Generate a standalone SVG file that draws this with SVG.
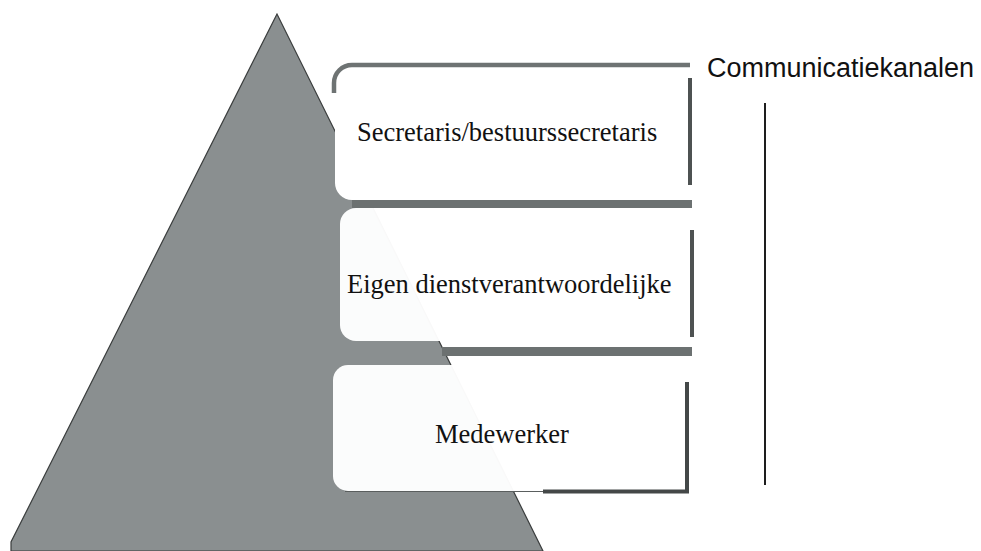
<svg xmlns="http://www.w3.org/2000/svg" width="981" height="551" viewBox="0 0 981 551">
<style>
  .box { fill: #ffffff; fill-opacity: 0.97; }
  .bar { fill: #6c7171; }
  .side { stroke: #4e5252; stroke-width: 4; fill: none; }
  .lbl { font-family: "Liberation Serif", "Times New Roman", serif; font-size: 26.5px; fill: #111111; }
  .title { font-family: "Liberation Sans", Arial, sans-serif; font-size: 27px; fill: #111111; }
</style>
<rect width="981" height="551" fill="#ffffff"/>
<g id="pyramid">
  <polygon points="277,14 11,542 11,551 543,551" fill="#8a8f90" stroke="#3a3d3d" stroke-width="1.2"/>
</g>
<g id="node-secretaris">
  <path class="box" style="fill-opacity:1" d="M352,63 H690 V200 H352 A17,17 0 0 1 335,183 V82 A19,19 0 0 1 354,63 Z"/>
  <path d="M334,93 V83 A18,18 0 0 1 352,65 H690" fill="none" stroke="#6e7373" stroke-width="4.5"/>
  <line class="side" x1="690" y1="78" x2="690" y2="185"/>
  <rect class="bar" x="352" y="200" width="340" height="8"/>
  <text class="lbl" x="357" y="141">Secretaris/bestuurssecretaris</text>
</g>
<g id="node-dienstverantwoordelijke">
  <path class="box" d="M356,208 H692 V341 H356 A16,16 0 0 1 340,325 V224 A16,16 0 0 1 356,208 Z"/>
  <line class="side" x1="692" y1="230" x2="692" y2="337"/>
  <rect class="bar" x="442" y="347" width="250" height="9"/>
  <text class="lbl" x="347" y="293">Eigen dienstverantwoordelijke</text>
</g>
<g id="node-medewerker">
  <path class="box" d="M348,365 H687 V491 H348 A15,15 0 0 1 333,476 V380 A15,15 0 0 1 348,365 Z"/>
  <line x1="345" y1="491.5" x2="545" y2="491.5" stroke="#5a5e5e" stroke-width="1"/>
  <path d="M543,491.5 H687 V382" fill="none" stroke="#444848" stroke-width="4"/>
  <text class="lbl" x="435" y="443">Medewerker</text>
</g>
<g id="label-communicatiekanalen">
  <text class="title" x="707" y="77">Communicatiekanalen</text>
</g>
<g id="connectors">
  <line x1="765" y1="103" x2="765" y2="485" stroke="#1e1e1e" stroke-width="2"/>
</g>
</svg>
